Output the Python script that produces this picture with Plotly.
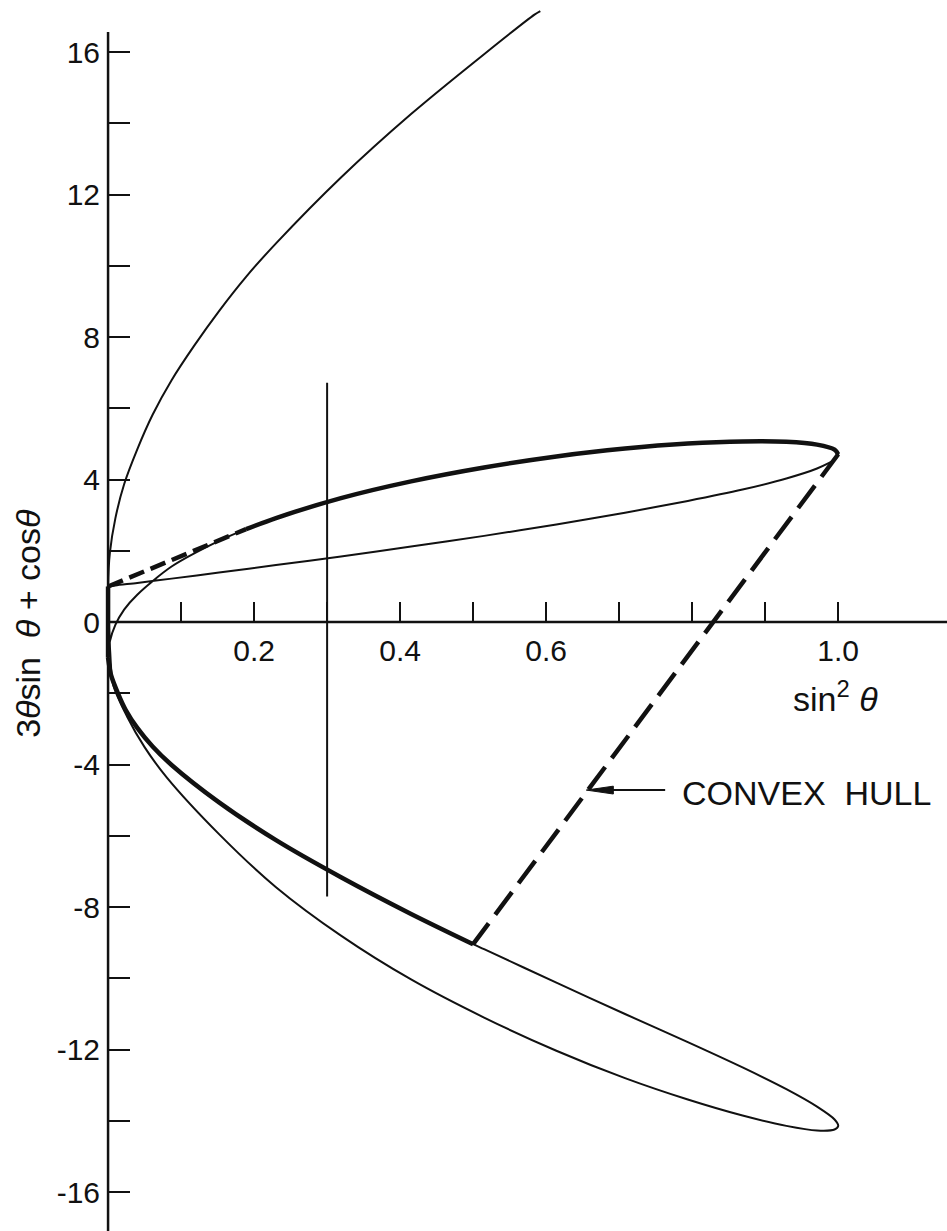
import plotly.graph_objects as go

# Points along the curve (sin^2 θ, 3θ sin θ + cos θ), one list pair per arc.
# θ from 0 to π/2: rises from (0, 1) to the right-hand corner
rise_x = [0.0, 0.010, 0.040, 0.087, 0.152, 0.230, 0.319, 0.415, 0.515, 0.614,
          0.708, 0.794, 0.869, 0.929, 0.971, 0.995, 1.000]
rise_y = [1.00, 1.03, 1.10, 1.22, 1.39, 1.60, 1.84, 2.12, 2.42, 2.74,
          3.07, 3.40, 3.72, 4.03, 4.31, 4.56, 4.71]

# θ from π/2 to π: upper arc back to (0, -1)
upper_x = [1.000, 0.995, 0.971, 0.929, 0.869, 0.794, 0.708, 0.614, 0.515, 0.415,
           0.319, 0.230, 0.189, 0.152, 0.087, 0.040, 0.022, 0.010, 0.0025, 0.0]
upper_y = [4.71, 4.84, 4.98, 5.06, 5.07, 5.01, 4.87, 4.65, 4.34, 3.95,
           3.48, 2.92, 2.61, 2.28, 1.56, 0.77, 0.35, -0.08, -0.54, -1.00]

# θ from π to 3π/2: lower arc out to the tip of the loop
lower_x = [0.0, 0.004, 0.013, 0.024, 0.040, 0.061, 0.087, 0.152, 0.230, 0.319, 0.415,
           0.500, 0.515, 0.614, 0.708, 0.794, 0.869, 0.929, 0.971, 0.995, 1.000]
lower_y = [-1.00, -1.48, -1.97, -2.46, -2.97, -3.49, -4.01, -5.06, -6.12, -7.16, -8.19,
           -9.04, -9.18, -10.12, -11.00, -11.79, -12.50, -13.11, -13.60, -13.96, -14.14]

# θ from 3π/2 to 2π: outer lower arc back to (0, 1)
return_x = [0.995, 0.971, 0.929, 0.869, 0.794, 0.708, 0.614, 0.515, 0.415,
            0.319, 0.230, 0.152, 0.080, 0.050, 0.026, 0.007, 0.003, 0.001, 0.0]
return_y = [-14.24, -14.27, -14.14, -13.85, -13.40, -12.80, -12.03, -11.10, -10.03,
            -8.80, -7.44, -5.95, -4.35, -3.51, -2.65, -1.76, -0.86, 0.06, 1.00]

# θ beyond 2π: steep branch leaving the top of the frame
climb_x = [0.0025, 0.010, 0.022, 0.040, 0.061, 0.087, 0.118, 0.152, 0.189, 0.230,
           0.319, 0.415, 0.515, 0.584, 0.592]
climb_y = [1.95, 2.91, 3.87, 4.85, 5.82, 6.79, 7.76, 8.73, 9.69, 10.63,
           12.48, 14.26, 15.94, 17.05, 17.15]

# Hull corners: tangent point on the upper arc and the lower corner
HULL_UPPER_END = 12   # index of (0.189, 2.61) in upper_x / upper_y
HULL_LOWER_END = 11   # index of (0.500, -9.04) in lower_x / lower_y

# Vertical marker at sin^2 θ = 0.3
marker_x = [0.3, 0.3]
marker_y = [6.72, -7.70]

# Axis ticks
x_ticks = [0.2, 0.4, 0.6, 1.0]
x_tick_text = ["0.2", "0.4", "0.6", "1.0"]
x_minor_ticks = [0.1, 0.3, 0.5, 0.7, 0.8, 0.9]
y_ticks = [-16, -12, -8, -4, 0, 4, 8, 12, 16]
y_tick_text = ["-16", "-12", "-8", "-4", "0", "4", "8", "12", "16"]
y_minor_ticks = [-14, -10, -6, -2, 2, 6, 10, 14]

X_RANGE = [-0.148, 1.149]
Y_RANGE = [-17.09, 17.46]
Y_AXIS_TOP = 16.56

INK = "#111111"
FONT = "Liberation Sans, Arial, sans-serif"

fig = go.Figure()

# axis lines through the origin
fig.add_trace(go.Scatter(x=[0, X_RANGE[1]], y=[0, 0], mode="lines",
                         line=dict(color=INK, width=2.5), hoverinfo="skip"))
fig.add_trace(go.Scatter(x=[0, 0], y=[Y_AXIS_TOP, Y_RANGE[0]], mode="lines",
                         line=dict(color=INK, width=2.5), hoverinfo="skip"))

# the whole curve as one thin stroke
curve_x = rise_x + upper_x[1:] + lower_x[1:] + return_x + climb_x
curve_y = rise_y + upper_y[1:] + lower_y[1:] + return_y + climb_y
fig.add_trace(go.Scatter(x=curve_x, y=curve_y, mode="lines",
                         line=dict(color=INK, width=2, shape="spline", smoothing=0.8)))

# vertical marker
fig.add_trace(go.Scatter(x=marker_x, y=marker_y, mode="lines",
                         line=dict(color=INK, width=2)))

# convex hull: heavy solid arcs
fig.add_trace(go.Scatter(x=upper_x[:HULL_UPPER_END + 1], y=upper_y[:HULL_UPPER_END + 1],
                         mode="lines",
                         line=dict(color=INK, width=4.5, shape="spline", smoothing=0.8)))
fig.add_trace(go.Scatter(x=lower_x[:HULL_LOWER_END + 1], y=lower_y[:HULL_LOWER_END + 1],
                         mode="lines",
                         line=dict(color=INK, width=4.5, shape="spline", smoothing=0.8)))
fig.add_trace(go.Scatter(x=[lower_x[0], rise_x[0]], y=[lower_y[0], rise_y[0]],
                         mode="lines", line=dict(color=INK, width=4.5)))

# convex hull: dashed chords
fig.add_trace(go.Scatter(x=[rise_x[0], upper_x[HULL_UPPER_END]],
                         y=[rise_y[0], upper_y[HULL_UPPER_END]],
                         mode="lines", line=dict(color=INK, width=4.5, dash="16px,7px")))
fig.add_trace(go.Scatter(x=[upper_x[0], lower_x[HULL_LOWER_END]],
                         y=[upper_y[0], lower_y[HULL_LOWER_END]],
                         mode="lines", line=dict(color=INK, width=4.5, dash="28px,11px")))

# pointer to the hull label
arrow_y = -4.715
fig.add_shape(type="line", x0=0.763, x1=0.680, y0=arrow_y, y1=arrow_y,
              line=dict(color=INK, width=2))
fig.add_shape(type="path",
              path=f"M 0.655 {arrow_y} L 0.692 {arrow_y + 0.11} L 0.692 {arrow_y - 0.11} Z",
              fillcolor=INK, line=dict(color=INK, width=1))

fig.add_annotation(x=0.7836, y=-4.80, text="CONVEX&nbsp;&nbsp;HULL", showarrow=False,
                   xanchor="left", yanchor="middle",
                   font=dict(family=FONT, size=34, color=INK))
fig.add_annotation(x=0.996, y=-2.10, text="sin<sup>2</sup> <i>θ</i>", showarrow=False,
                   xanchor="center", yanchor="middle",
                   font=dict(family=FONT, size=34, color=INK))
fig.add_annotation(x=28 / 947, xref="paper", y=-0.05,
                   text="3<i>θ</i>sin  <i>θ</i> + cos<i>θ</i>", showarrow=False,
                   textangle=-90, xanchor="center", yanchor="middle",
                   font=dict(family=FONT, size=34, color=INK))

x_pos = -Y_RANGE[0] / (Y_RANGE[1] - Y_RANGE[0])
y_pos = -X_RANGE[0] / (X_RANGE[1] - X_RANGE[0])

fig.update_layout(
    width=947, height=1231,
    margin=dict(l=0, r=0, t=0, b=0),
    paper_bgcolor="white", plot_bgcolor="white",
    showlegend=False,
    font=dict(family=FONT, color=INK),
    xaxis=dict(range=X_RANGE, domain=[0, 1], anchor="free", position=x_pos,
               side="bottom", showline=False, showgrid=False, zeroline=False,
               ticks="inside", ticklen=20, tickwidth=2, tickcolor=INK,
               tickvals=x_ticks, ticktext=x_tick_text, ticklabelstandoff=8,
               tickfont=dict(family=FONT, size=30, color=INK),
               minor=dict(tickvals=x_minor_ticks, ticks="inside", ticklen=20,
                          tickwidth=2, tickcolor=INK, showgrid=False)),
    yaxis=dict(range=Y_RANGE, domain=[0, 1], anchor="free", position=y_pos,
               side="left", showline=False, showgrid=False, zeroline=False,
               ticks="inside", ticklen=21, tickwidth=2, tickcolor=INK,
               tickvals=y_ticks, ticktext=y_tick_text, ticklabelstandoff=8,
               tickfont=dict(family=FONT, size=30, color=INK),
               minor=dict(tickvals=y_minor_ticks, ticks="inside", ticklen=21,
                          tickwidth=2, tickcolor=INK, showgrid=False)),
)

fig.write_html("out.html")
